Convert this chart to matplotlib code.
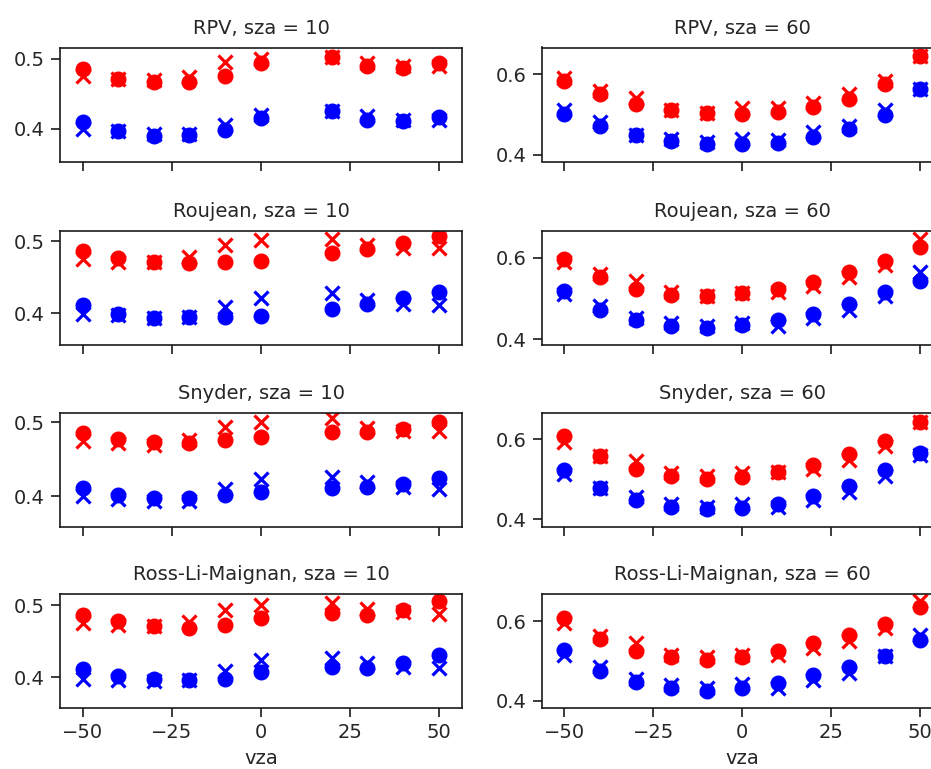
import matplotlib
matplotlib.use("Agg")
import matplotlib.pyplot as plt
import numpy as np

vza_10 = [-50, -40, -30, -20, -10, 0, 20, 30, 40, 50]
vza_60 = [-50, -40, -30, -20, -10, 0, 10, 20, 30, 40, 50]

models = ["RPV", "Roujean", "Snyder", "Ross-Li-Maignan"]

# sza = 10 : red (circle, x), blue (circle, x)
rpv10_red_o = [0.485, 0.471, 0.466, 0.467, 0.475, 0.494, 0.502, 0.489, 0.486, 0.494]
rpv10_red_x = [0.475, 0.471, 0.470, 0.474, 0.495, 0.499, 0.502, 0.494, 0.489, 0.490]
rpv10_blue_o = [0.4095, 0.397, 0.390, 0.391, 0.398, 0.415, 0.425, 0.413, 0.411, 0.417]
rpv10_blue_x = [0.399, 0.396, 0.392, 0.393, 0.405, 0.420, 0.425, 0.418, 0.413, 0.412]

rou10_red_o = [0.4865, 0.476, 0.4707, 0.469, 0.4716, 0.473, 0.483, 0.489, 0.497, 0.5065]
rou10_red_x = [0.475, 0.4716, 0.4707, 0.4777, 0.495, 0.501, 0.5028, 0.495, 0.490, 0.490]
rou10_blue_o = [0.411, 0.399, 0.394, 0.395, 0.395, 0.396, 0.4056, 0.4126, 0.4214, 0.430]
rou10_blue_x = [0.3995, 0.398, 0.394, 0.395, 0.409, 0.4205, 0.4274, 0.419, 0.4135, 0.412]

sny10_red_o = [0.485, 0.4768, 0.4736, 0.4714, 0.476, 0.4805, 0.4864, 0.4873, 0.4905, 0.501]
sny10_red_x = [0.475, 0.4723, 0.470, 0.476, 0.494, 0.501, 0.5055, 0.493, 0.488, 0.4886]
sny10_blue_o = [0.411, 0.4014, 0.3977, 0.3977, 0.4018, 0.4055, 0.411, 0.413, 0.4168, 0.425]
sny10_blue_x = [0.400, 0.397, 0.394, 0.3932, 0.410, 0.4236, 0.426, 0.419, 0.4123, 0.410]

rlm10_red_o = [0.4865, 0.4786, 0.4716, 0.4688, 0.4726, 0.4819, 0.4898, 0.4865, 0.4935, 0.5065]
rlm10_red_x = [0.4758, 0.4726, 0.4716, 0.4772, 0.4935, 0.5005, 0.5037, 0.4944, 0.4907, 0.4888]
rlm10_blue_o = [0.4107, 0.4019, 0.3972, 0.3958, 0.3972, 0.4074, 0.4144, 0.4121, 0.4191, 0.4307]
rlm10_blue_x = [0.398, 0.3958, 0.3944, 0.3958, 0.4088, 0.4237, 0.4274, 0.420, 0.4135, 0.4121]

# sza = 60
rpv60_red_o = [0.5833, 0.550, 0.5267, 0.5125, 0.504, 0.5025, 0.506, 0.518, 0.539, 0.577, 0.646]
rpv60_red_x = [0.5917, 0.558, 0.5417, 0.5125, 0.504, 0.5167, 0.5167, 0.529, 0.550, 0.583, 0.646]
rpv60_blue_o = [0.5017, 0.471, 0.450, 0.433, 0.4267, 0.4267, 0.429, 0.443, 0.464, 0.500, 0.5625]
rpv60_blue_x = [0.5125, 0.481, 0.450, 0.439, 0.431, 0.439, 0.4375, 0.456, 0.471, 0.511, 0.5625]

rou60_red_o = [0.5967, 0.5516, 0.523, 0.509, 0.505, 0.513, 0.523, 0.541, 0.564, 0.591, 0.625]
rou60_red_x = [0.5885, 0.560, 0.5418, 0.515, 0.505, 0.513, 0.515, 0.531, 0.5516, 0.583, 0.646]
rou60_blue_o = [0.517, 0.4713, 0.4467, 0.433, 0.4287, 0.4344, 0.4467, 0.463, 0.486, 0.515, 0.5434]
rou60_blue_x = [0.511, 0.482, 0.453, 0.441, 0.433, 0.441, 0.433, 0.4516, 0.4713, 0.5066, 0.564]

sny60_red_o = [0.6076, 0.557, 0.526, 0.509, 0.5008, 0.505, 0.5176, 0.5345, 0.562, 0.5958, 0.6437]
sny60_red_x = [0.5933, 0.557, 0.5445, 0.515, 0.5067, 0.516, 0.5176, 0.526, 0.5487, 0.583, 0.6437]
sny60_blue_o = [0.5235, 0.478, 0.448, 0.431, 0.425, 0.427, 0.4378, 0.4571, 0.4824, 0.5218, 0.5655]
sny60_blue_x = [0.5134, 0.478, 0.4546, 0.4378, 0.431, 0.4378, 0.4294, 0.4487, 0.4672, 0.5067, 0.5597]

rlm60_red_o = [0.6067, 0.554, 0.5255, 0.5088, 0.502, 0.5088, 0.5255, 0.544, 0.5649, 0.5925, 0.6343]
rlm60_red_x = [0.5958, 0.5623, 0.544, 0.5146, 0.509, 0.5146, 0.5146, 0.5314, 0.5506, 0.5816, 0.651]
rlm60_blue_o = [0.5272, 0.4753, 0.446, 0.431, 0.4243, 0.4326, 0.4452, 0.4644, 0.4854, 0.5121, 0.5523]
rlm60_blue_x = [0.5146, 0.4854, 0.4544, 0.4393, 0.431, 0.4418, 0.431, 0.4519, 0.4686, 0.5121, 0.5649]

data10 = [
    (rpv10_red_o, rpv10_red_x, rpv10_blue_o, rpv10_blue_x),
    (rou10_red_o, rou10_red_x, rou10_blue_o, rou10_blue_x),
    (sny10_red_o, sny10_red_x, sny10_blue_o, sny10_blue_x),
    (rlm10_red_o, rlm10_red_x, rlm10_blue_o, rlm10_blue_x),
]
data60 = [
    (rpv60_red_o, rpv60_red_x, rpv60_blue_o, rpv60_blue_x),
    (rou60_red_o, rou60_red_x, rou60_blue_o, rou60_blue_x),
    (sny60_red_o, sny60_red_x, sny60_blue_o, sny60_blue_x),
    (rlm60_red_o, rlm60_red_x, rlm60_blue_o, rlm60_blue_x),
]

ylims_left = [(0.353, 0.516), (0.356, 0.514), (0.359, 0.513), (0.357, 0.516)]
ylims_right = [(0.383, 0.667), (0.386, 0.665), (0.381, 0.666), (0.382, 0.668)]

plt.rcParams['font.family'] = ['DejaVu Sans']
plt.rcParams['font.size'] = 14

W, H = 931, 769
fig = plt.figure(figsize=(W / 100, H / 100), dpi=100)

row_tops = [47.5, 231, 412.7, 594]
ax_h = 114
ax_w = 402
lefts = [60, 541.7]

ms_o = 10.5
ms_x = 10
mew_x = 2.3
txt_color = '#262626'

for r in range(4):
    for c in range(2):
        left = lefts[c] / W
        bottom = (H - row_tops[r] - ax_h) / H
        ax = fig.add_axes([left, bottom, ax_w / W, ax_h / H])
        if c == 0:
            xs = vza_10
            ro, rx, bo, bx = data10[r]
            sza = 10
            ax.set_ylim(*ylims_left[r])
            ax.set_yticks([0.4, 0.5])
            ax.set_yticklabels(["0.4", "0.5"])
        else:
            xs = vza_60
            ro, rx, bo, bx = data60[r]
            sza = 60
            ax.set_ylim(*ylims_right[r])
            ax.set_yticks([0.4, 0.6])
            ax.set_yticklabels(["0.4", "0.6"])
        ax.plot(xs, rx, 'x', color='red', ms=ms_x, mew=mew_x, ls='none')
        ax.plot(xs, ro, 'o', color='red', ms=ms_o, ls='none')
        ax.plot(xs, bx, 'x', color='blue', ms=ms_x, mew=mew_x, ls='none')
        ax.plot(xs, bo, 'o', color='blue', ms=ms_o, ls='none')
        ax.set_xlim(-56.4, 56.6)
        ax.set_xticks([-50, -25, 0, 25, 50])
        ax.set_title(f"{models[r]}, sza = {sza}", fontsize=14, pad=10, color=txt_color)
        for s in ax.spines.values():
            s.set_linewidth(1.2)
            s.set_color('#1a1a1a')
        ax.tick_params(length=6.5, width=1.2, labelsize=14, pad=4.5,
                       labelcolor=txt_color, color='#1a1a1a')
        if r < 3:
            ax.tick_params(labelbottom=False)
        else:
            ax.set_xlabel("vza", fontsize=14, labelpad=5, color=txt_color)

fig.savefig("out.png", dpi=100)
